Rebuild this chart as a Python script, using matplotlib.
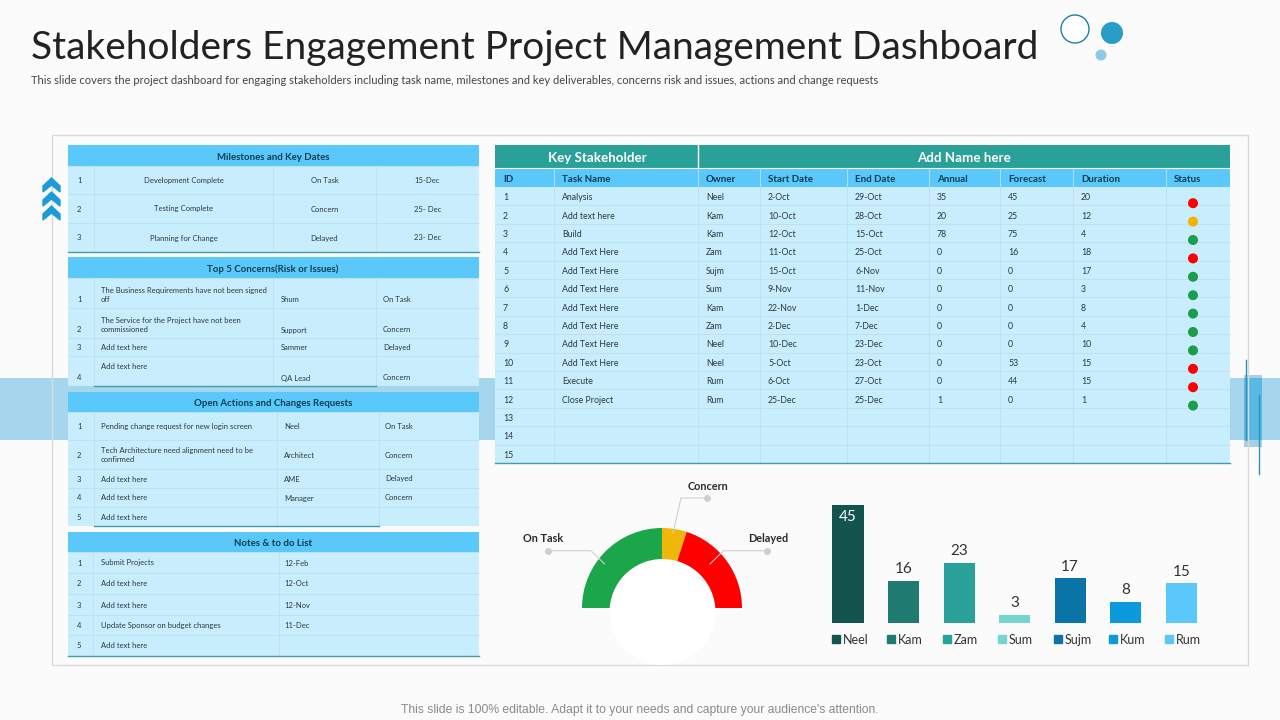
import matplotlib
matplotlib.use("Agg")
import matplotlib.pyplot as plt
from matplotlib.patches import Rectangle, Circle, Ellipse

plt.rcParams['font.family'] = ['Lato', 'DejaVu Sans']

# left tables
milestones = [("1", "Development Complete", "On Task", "15-Dec"),
              ("2", "Testing Complete", "Concern", "25- Dec"),
              ("3", "Planning for Change", "Delayed", "23- Dec")]
concerns = [("1", "The Business Requirements have not been signed\noff", "Shum", "On Task"),
            ("2", "The Service for the Project have not been\ncommissioned", "Support", "Concern"),
            ("3", "Add text here", "Sammer", "Delayed"),
            ("4", "Add text here", "QA Lead", "Concern")]
actions = [("1", "Pending change request for new login screen", "Neel", "On Task"),
           ("2", "Tech Architecture need alignment need to be\nconfirmed", "Architect", "Concern"),
           ("3", "Add text here", "AME", "Delayed"),
           ("4", "Add text here", "Manager", "Concern"),
           ("5", "Add text here", "", "")]
notes = [("1", "Submit Projects", "12-Feb"),
         ("2", "Add text here", "12-Oct"),
         ("3", "Add text here", "12-Nov"),
         ("4", "Update Sponsor on budget changes", "11-Dec"),
         ("5", "Add text here", "")]

# stakeholder table
columns = ["ID", "Task Name", "Owner", "Start Date", "End Date", "Annual", "Forecast", "Duration", "Status"]
ids = [str(i) for i in range(1, 16)]
tasks = ["Analysis", "Add text here", "Build", "Add Text Here", "Add Text Here", "Add Text Here",
         "Add Text Here", "Add Text Here", "Add Text Here", "Add Text Here", "Execute", "Close Project"]
owners = ["Neel", "Kam", "Kam", "Zam", "Sujm", "Sum", "Kam", "Zam", "Neel", "Neel", "Rum", "Rum"]
start_dates = ["2-Oct", "10-Oct", "12-Oct", "11-Oct", "15-Oct", "9-Nov", "22-Nov", "2-Dec", "10-Dec", "5-Oct", "6-Oct", "25-Dec"]
end_dates = ["29-Oct", "28-Oct", "15-Oct", "25-Oct", "6-Nov", "11-Nov", "1-Dec", "7-Dec", "23-Dec", "23-Oct", "27-Oct", "25-Dec"]
annual = [35, 20, 78, 0, 0, 0, 0, 0, 0, 0, 0, 1]
forecast = [45, 25, 75, 16, 0, 0, 0, 0, 0, 53, 44, 0]
duration = [20, 12, 4, 18, 17, 3, 8, 4, 10, 15, 15, 1]
status = ["r", "y", "g", "r", "g", "g", "g", "g", "g", "r", "r", "g"]

# charts
gauge_labels = ["On Task", "Concern", "Delayed"]
gauge_values = [50, 10, 40]
owner_names = ["Neel", "Kam", "Zam", "Sum", "Sujm", "Kum", "Rum"]
owner_values = [45, 16, 23, 3, 17, 8, 15]
owner_colors = ["#14544f", "#1f7a72", "#2aa198", "#74d6cf", "#0a74a6", "#0b9bdc", "#5ac8fa"]

BG = "#fbfbfb"
ROW = "#c8edfd"
HEAD = "#5ac8fa"
TEAL = "#2aa198"
GRID = "#bdd6e0"
TXT = "#2b3a40"
HTXT = "#0c3d50"
status_colors = {"r": "#fe0000", "y": "#f0b400", "g": "#1a9e4b"}

fig = plt.figure(figsize=(12.8, 7.2), dpi=100, facecolor=BG)
ax = fig.add_axes([0, 0, 1, 1])
ax.set_xlim(0, 1280)
ax.set_ylim(720, 0)
ax.axis("off")


def px_axes(left, top, right, bottom):
    # axes placed by pixel box
    a = fig.add_axes([left / 1280, 1 - bottom / 720, (right - left) / 1280, (bottom - top) / 720])
    a.patch.set_alpha(0)
    return a


def rect(x0, y0, x1, y1, color, **kw):
    ax.add_patch(Rectangle((x0, y0), x1 - x0, y1 - y0, facecolor=color, edgecolor="none", **kw))


def cell_text(x, y, s, ha="left", size=5.5):
    # two line cells get one text per line
    lines = s.split("\n")
    for k, line in enumerate(lines):
        ax.text(x, y + (k - (len(lines) - 1) / 2) * 9, line, ha=ha, va="center_baseline", fontsize=size, color=TXT)


def left_table(title, rows, top, head_bottom, row_edges, col_edges, text_x, centered=False, line_to=(68, 479), low_cells=False):
    rect(68, top, 479, head_bottom, HEAD)
    ax.text(273, (top + head_bottom) / 2 + 0.5, title, ha="center", va="center_baseline", fontsize=6.9,
            fontweight="bold", color=HTXT)
    rect(68, head_bottom, 479, row_edges[-1], ROW)
    for y in row_edges[:-1]:
        ax.plot([68, 479], [y, y], color=GRID, lw=0.4)
    for x in col_edges:
        ax.plot([x, x], [head_bottom, row_edges[-1]], color=GRID, lw=0.4)
    for i, row in enumerate(rows):
        y0, y1 = row_edges[i], row_edges[i + 1]
        mid = (y0 + y1) / 2
        tall = low_cells and (y1 - y0) > 25
        low = y1 - 8.5 if tall else mid
        cell_text(77, low, row[0])
        for j, val in enumerate(row[1:]):
            if centered:
                cx = (col_edges[j] + (col_edges + [479])[j + 1]) / 2
                cell_text(cx, mid, val, ha="center")
            elif j == 0 and tall:
                cell_text(text_x[j], mid + 2 if "\n" in val else y0 + 10, val)
            elif j > 0:
                cell_text(text_x[j], low, val)
            else:
                cell_text(text_x[j], mid, val)
    ax.plot(line_to, [row_edges[-1], row_edges[-1]], color="#3f9fa8", lw=1)


# background band and decoration
rect(0, 378, 1280, 440, "#a6d6ee")
rect(1244, 375, 1262, 447, "#a9cfe6")
rect(1244, 378, 1262, 440, "#5ab9e4")
ax.plot([1246, 1246], [360, 440], color="#2a93b0", lw=1)
ax.plot([1259, 1259], [395, 474], color="#2a93b0", lw=1)
ax.add_patch(Rectangle((52, 135), 1196, 530, facecolor="none", edgecolor="#d9d9d9", lw=1))
for top in [178, 192, 206]:
    ax.fill([43, 51.5, 60, 60, 51.5, 43], [top + 8, top, top + 8, top + 14, top + 7, top + 14], color="#1b9cd8")

# header
ax.text(31, 44, "Stakeholders Engagement Project Management Dashboard", ha="left", va="center_baseline",
        fontsize=28, color="#222222")
ax.text(31, 80, "This slide covers the project dashboard for engaging stakeholders including task name, milestones and key deliverables, concerns risk and issues, actions and change requests",
        ha="left", va="center", fontsize=8.0, color="#444444")
ax.add_patch(Circle((1075, 29), 14, facecolor="white", edgecolor="#1a7fa6", lw=1))
ax.add_patch(Circle((1112, 33), 11, facecolor="#2a9cc8", edgecolor="none"))
ax.add_patch(Circle((1101, 55), 5.5, facecolor="#8ccbe6", edgecolor="none"))
ax.text(640, 710, "This slide is 100% editable. Adapt it to your needs and capture your audience's attention.",
        ha="center", va="center", fontsize=8.7, color="#8a8a8a", family="Liberation Sans")

# left column tables
left_table("Milestones and Key Dates", milestones, 145, 166, [166, 194, 223, 252], [94, 273, 376],
           None, centered=True)
left_table("Top 5 Concerns(Risk or Issues)", concerns, 257, 278, [278, 308, 338, 356, 386], [94, 273, 376],
           [101, 281, 383], line_to=(94, 376), low_cells=True)
left_table("Open Actions and Changes Requests", actions, 392, 412, [412, 440, 469, 488, 507, 526], [94, 277, 379],
           [101, 284, 385], line_to=(94, 379))
left_table("Notes & to do List", notes, 532, 552, [552, 573, 594, 615, 635, 656], [93, 279],
           [101, 284])

# stakeholder table
col_x = [495, 554, 698, 760, 847, 929, 1000, 1073, 1166, 1230]
row_top = 187
row_h = (463 - 187) / 15
rect(495, 145, 1230, 168, TEAL)
rect(495, 168, 1230, 187, HEAD)
rect(495, 187, 1230, 463, ROW)
ax.plot([698, 698], [145, 168], color="white", lw=1)
ax.plot([495, 1230], [168, 168], color="white", lw=0.8)
ax.text(597, 157.5, "Key Stakeholder", ha="center", va="center_baseline", fontsize=9.6, fontweight="bold", color="white")
ax.text(964, 157.5, "Add Name here", ha="center", va="center_baseline", fontsize=9.6, fontweight="bold", color="white")
for x in col_x[1:-1]:
    ax.plot([x, x], [168, 187], color="#a8e0fa", lw=0.8)
    ax.plot([x, x], [187, 463], color=GRID, lw=0.4)
for i in range(1, 15):
    ax.plot([495, 1230], [row_top + i * row_h] * 2, color=GRID, lw=0.4)
ax.plot([495, 1230], [463, 463], color="#3f9fa8", lw=1)
for x, name in zip(col_x, columns):
    ax.text(x + 8, 178, name, ha="left", va="center_baseline", fontsize=7, fontweight="bold", color=HTXT)
for i, val in enumerate(ids):
    cell_text(col_x[0] + 8, row_top + (i + 0.5) * row_h + 0.5, val, size=6.3)
table_cols = [tasks, owners, start_dates, end_dates, annual, forecast, duration]
for c, col in enumerate(table_cols):
    for i, val in enumerate(col):
        cell_text(col_x[c + 1] + 8, row_top + (i + 0.5) * row_h + 0.5, str(val), size=6.3)
for i, s in enumerate(status):
    ax.add_patch(Circle((1193, row_top + (i + 0.5) * row_h + 7), 5, facecolor=status_colors[s], edgecolor="none", zorder=3))

# gauge
pie_ax = px_axes(582, 528, 742, 688)
pie_ax.pie(gauge_values + [sum(gauge_values)], startangle=180, counterclock=False, radius=1,
           colors=["#1ba64a", "#efb70a", "#fe0000", (0, 0, 0, 0)], wedgeprops={"width": 0.45})
pie_ax.set_xlim(-1, 1)
pie_ax.set_ylim(-1, 1)
leaders = [([547.5, 591, 604.6], [550.7, 550.7, 564]),
           ([707, 681, 673], [498, 498, 533]),
           ([767, 723.5, 710], [550.7, 550.7, 564])]
label_pos = [(543, 538), (708, 487), (768, 538)]
ov = fig.add_axes([0, 0, 1, 1])
ov.set_xlim(0, 1280)
ov.set_ylim(720, 0)
ov.axis("off")
ov.add_patch(Ellipse((662.5, 612), 106, 106, facecolor="white", edgecolor="none"))
for (xs, ys), (tx, ty), name in zip(leaders, label_pos, gauge_labels):
    ov.plot(xs, ys, color="#cfcfcf", lw=0.8)
    ov.plot(xs[0], ys[0], "o", color="#cfcfcf", ms=4)
    ov.text(tx, ty, name, ha="center", va="center", fontsize=7.8, fontweight="bold", color="#2b2b2b")

# bars
bar_ax = px_axes(820.2, 500, 1209, 622.7)
pos = list(range(len(owner_names)))
bar_ax.bar(pos, owner_values, width=0.56, color=owner_colors)
bar_ax.set_xlim(-0.5, 6.5)
bar_ax.set_ylim(0, 46.9)
bar_ax.axis("off")
for i, v in zip(pos, owner_values):
    if v == max(owner_values):
        bar_ax.annotate(str(v), (i, v), xytext=(0, -7.5), textcoords="offset points", ha="center", va="center_baseline",
                        fontsize=11, color="white")
    else:
        bar_ax.annotate(str(v), (i, v), xytext=(0, 9.5), textcoords="offset points", ha="center", va="center_baseline",
                        fontsize=11, color="#333333")
for i, name, c in zip(pos, owner_names, owner_colors):
    bar_ax.plot(i - 0.22, -6.2, "s", color=c, ms=5.5, clip_on=False)
    bar_ax.text(i - 0.1, -6.2, name, ha="left", va="center_baseline", fontsize=9, color="#333333", clip_on=False)

plt.savefig("out.png", dpi=100)
